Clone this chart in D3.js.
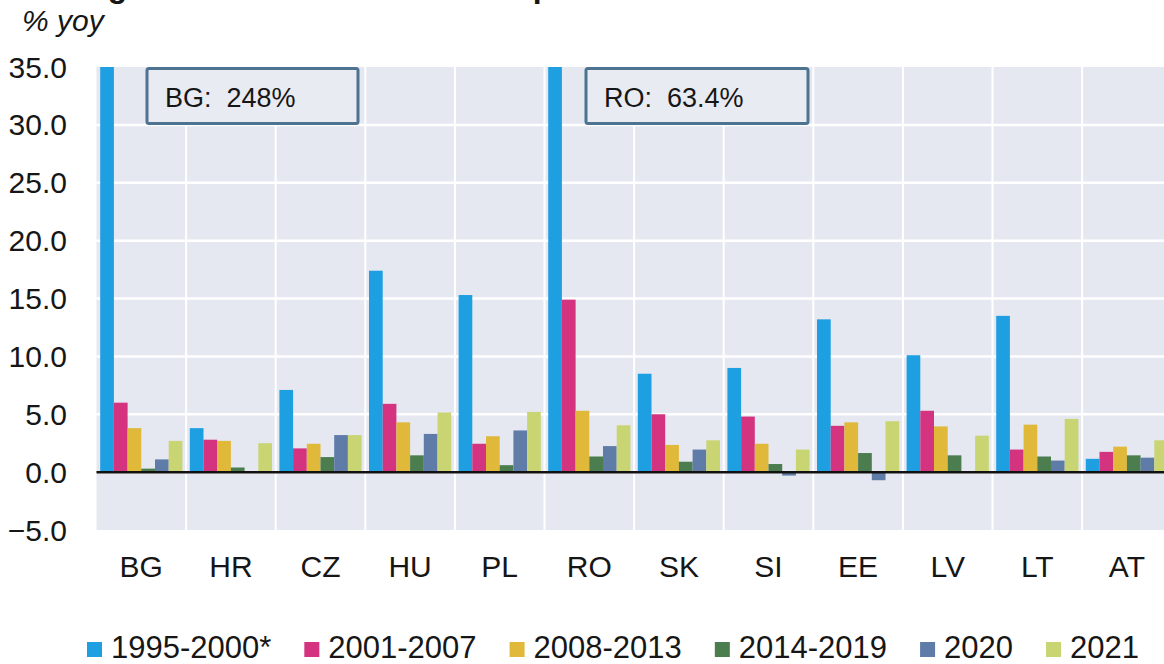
<!DOCTYPE html>
<html>
<head>
<meta charset="utf-8">
<script src="https://cdn.jsdelivr.net/npm/d3@7"></script>
<style>
  body { margin: 0; background: #ffffff; }
  text { font-family: Arial, "Liberation Sans", sans-serif; fill: #161616; }
</style>
</head>
<body>
<svg id="chart" width="1164" height="664"></svg>
<script>
// Countries on the x axis
let countries = ["BG", "HR", "CZ", "HU", "PL", "RO", "SK", "SI", "EE", "LV", "LT", "AT"];

// Periods shown as bars inside each country group
let periods = ["1995-2000*", "2001-2007", "2008-2013", "2014-2019", "2020", "2021"];

// Average inflation per period, one value per country (same order as countries)
let p1995 = [248, 3.8, 7.1, 17.4, 15.3, 63.4, 8.5, 9.0, 13.2, 10.1, 13.5, 1.15];
let p2001 = [6.0, 2.8, 2.05, 5.9, 2.45, 14.9, 5.0, 4.8, 4.0, 5.3, 1.95, 1.75];
let p2008 = [3.8, 2.7, 2.45, 4.3, 3.1, 5.3, 2.35, 2.45, 4.3, 3.95, 4.1, 2.2];
let p2014 = [0.3, 0.4, 1.3, 1.45, 0.6, 1.35, 0.9, 0.7, 1.65, 1.45, 1.35, 1.45];
let p2020 = [1.1, 0, 3.2, 3.3, 3.6, 2.25, 1.95, -0.3, -0.7, 0, 1.0, 1.25];
let p2021 = [2.7, 2.5, 3.2, 5.15, 5.2, 4.05, 2.75, 1.95, 4.4, 3.15, 4.6, 2.75];

// Y axis ticks
let yTicks = [-5, 0, 5, 10, 15, 20, 25, 30, 35];

// Boxed notes for the values that run off the top
let notes = [["BG", "BG:  248%"], ["RO", "RO:  63.4%"]];

let series = [p1995, p2001, p2008, p2014, p2020, p2021];

// Colours of each period
let colors = ["#1e9fe1", "#d3337f", "#e0b83a", "#4b7d4f", "#5f7ca9", "#c9d572"];

// Layout
let plotLeft = 96.5, plotTop = 67, plotBottom = 530, step = 89.6;

let svg = d3.select("#chart");

// Scales
let x0 = d3.scaleBand()
  .domain(countries)
  .range([plotLeft, plotLeft + step * countries.length])
  .padding(0);

let x1 = d3.scaleBand()
  .domain(d3.range(periods.length))
  .range([0, x0.bandwidth()])
  .paddingInner(0)
  .paddingOuter(0.27);

let y = d3.scaleLinear()
  .domain([-5, 35])
  .range([plotBottom, plotTop]);

let plotRight = x0.range()[1];

// Clip everything to the plot area
svg.append("clipPath")
  .attr("id", "plotClip")
  .append("rect")
  .attr("x", plotLeft)
  .attr("y", plotTop)
  .attr("width", plotRight - plotLeft)
  .attr("height", plotBottom - plotTop);

// Plot background
svg.append("rect")
  .attr("x", plotLeft)
  .attr("y", plotTop)
  .attr("width", plotRight - plotLeft)
  .attr("height", plotBottom - plotTop)
  .attr("fill", "#e5e8f0");

// Horizontal gridlines
svg.append("g")
  .selectAll("line")
  .data(yTicks.slice(1, -1))
  .enter()
  .append("line")
  .attr("x1", plotLeft)
  .attr("x2", plotRight)
  .attr("y1", d => y(d))
  .attr("y2", d => y(d))
  .attr("stroke", "#ffffff")
  .attr("stroke-width", 2.5);

// Vertical gridlines between countries
svg.append("g")
  .selectAll("line")
  .data(countries.slice(1))
  .enter()
  .append("line")
  .attr("x1", d => x0(d))
  .attr("x2", d => x0(d))
  .attr("y1", plotTop)
  .attr("y2", plotBottom)
  .attr("stroke", "#ffffff")
  .attr("stroke-width", 2);

// Bars
let groups = svg.append("g")
  .attr("clip-path", "url(#plotClip)")
  .selectAll("g")
  .data(countries)
  .enter()
  .append("g")
  .attr("transform", d => "translate(" + x0(d) + ",0)");

groups.selectAll("rect")
  .data((d, i) => series.map((s, k) => ({k: k, v: s[i]})))
  .enter()
  .append("rect")
  .attr("x", d => x1(d.k))
  .attr("width", x1.bandwidth())
  .attr("y", d => y(Math.max(0, d.v)))
  .attr("height", d => Math.abs(y(d.v) - y(0)))
  .attr("fill", d => colors[d.k]);

// Zero line
svg.append("line")
  .attr("x1", plotLeft)
  .attr("x2", plotRight)
  .attr("y1", y(0))
  .attr("y2", y(0))
  .attr("stroke", "#111111")
  .attr("stroke-width", 2.5);

// Y tick labels
svg.append("g")
  .selectAll("text")
  .data(yTicks)
  .enter()
  .append("text")
  .attr("x", 67)
  .attr("y", d => y(d))
  .attr("dy", "0.35em")
  .attr("text-anchor", "end")
  .style("font-size", "30px")
  .text(d => d3.format(".1f")(d));

// X labels
svg.append("g")
  .selectAll("text")
  .data(countries)
  .enter()
  .append("text")
  .attr("x", d => x0(d) + x0.bandwidth() / 2)
  .attr("y", 577)
  .attr("text-anchor", "middle")
  .style("font-size", "30px")
  .text(d => d);

// Notes for the clipped bars
let noteX = {BG: 50.5, RO: 41.5}, noteW = {BG: 211, RO: 222};
notes.forEach(function(n) {
  let bx = x0(n[0]) + noteX[n[0]];
  svg.append("rect")
    .attr("x", bx)
    .attr("y", y(35) + 1.5)
    .attr("width", noteW[n[0]])
    .attr("height", 55)
    .attr("fill", "#e9ebf2")
    .attr("stroke", "#4e7391")
    .attr("stroke-width", 3)
    .attr("rx", 2);
  svg.append("text")
    .attr("x", bx + 18)
    .attr("y", y(35) + 40)
    .style("font-size", "27px")
    .style("white-space", "pre")
    .text(n[1]);
});

// Unit label
svg.append("text")
  .attr("x", 22)
  .attr("y", 31)
  .style("font-size", "30px")
  .style("font-style", "italic")
  .text("% yoy");

// Title, cut off at the top of the picture so only its descenders show
svg.append("text")
  .attr("x", 20)
  .attr("y", -3)
  .style("font-size", "32px")
  .style("font-weight", "bold")
  .text("Average annual inflation over the period");

// Legend, laid out from measured text widths
let legend = svg.append("g");
let lx = 87;
periods.forEach(function(p, i) {
  legend.append("rect")
    .attr("x", lx)
    .attr("y", 642)
    .attr("width", 15)
    .attr("height", 15)
    .attr("fill", colors[i]);
  let t = legend.append("text")
    .attr("x", lx + 24)
    .attr("y", 658)
    .style("font-size", "31px")
    .text(p);
  lx += 24 + t.node().getComputedTextLength() + 33;
});
</script>
</body>
</html>
